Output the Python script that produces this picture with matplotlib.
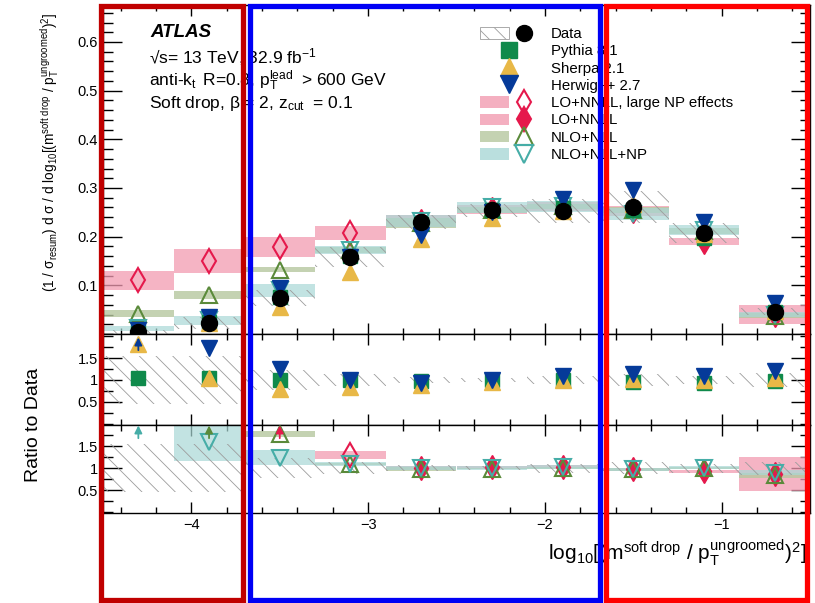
import numpy as np
import matplotlib
matplotlib.use("Agg")
import matplotlib.pyplot as plt
from matplotlib import ticker
from matplotlib.patches import Patch, Rectangle
from matplotlib.lines import Line2D
from matplotlib.legend_handler import HandlerTuple

plt.rcParams['font.family'] = ['Liberation Sans', 'DejaVu Sans']
plt.rcParams['mathtext.fontset'] = 'custom'
plt.rcParams['mathtext.rm'] = 'Liberation Sans'
plt.rcParams['mathtext.it'] = 'Liberation Sans:italic'
plt.rcParams['mathtext.bf'] = 'Liberation Sans:bold'
plt.rcParams['hatch.linewidth'] = 0.6

# binning: log10(rho^2), 10 bins of width 0.4
edges = [-4.5, -4.1, -3.7, -3.3, -2.9, -2.5, -2.1, -1.7, -1.3, -0.9, -0.5]
centers = [-4.3, -3.9, -3.5, -3.1, -2.7, -2.3, -1.9, -1.5, -1.1, -0.7]

# main panel
data = [0.005, 0.022, 0.074, 0.158, 0.230, 0.254, 0.253, 0.261, 0.208, 0.046]
data_err = [0.004, 0.012, 0.017, 0.020, 0.015, 0.013, 0.025, 0.033, 0.021, 0.007]
pythia = [0.006, 0.024, 0.075, 0.160, 0.225, 0.255, 0.258, 0.255, 0.198, 0.045]
sherpa = [0.009, 0.023, 0.056, 0.127, 0.195, 0.238, 0.253, 0.268, 0.205, 0.048]
herwig = [0.009, 0.035, 0.095, 0.158, 0.203, 0.250, 0.278, 0.296, 0.230, 0.064]

# LO+NNLL with large NP effects: first four bins, LO+NNLL: remaining six
lo_np = [0.110, 0.150, 0.179, 0.208]
lo_np_h = [0.020, 0.025, 0.021, 0.014]
lo = [0.232, 0.256, 0.262, 0.252, 0.190, 0.040]
lo_h = [0.012, 0.010, 0.010, 0.010, 0.007, 0.020]
nlo = [0.042, 0.080, 0.132, 0.172, 0.228, 0.255, 0.262, 0.255, 0.212, 0.038]
nlo_h = [0.007, 0.008, 0.005, 0.006, 0.010, 0.006, 0.006, 0.006, 0.006, 0.005]
nlonp = [0.012, 0.028, 0.090, 0.172, 0.232, 0.260, 0.262, 0.246, 0.214, 0.040]
nlonp_h = [0.005, 0.009, 0.013, 0.008, 0.012, 0.011, 0.012, 0.012, 0.010, 0.006]

# ratio to data, MC (values above the range are drawn as arrows)
data_rel = [0.55, 0.55, 0.22, 0.13, 0.07, 0.05, 0.10, 0.13, 0.10, 0.15]
pythia_r = [1.04, 1.04, 1.00, 1.00, 0.98, 1.00, 1.00, 0.96, 0.94, 0.97]
sherpa_r = [1.82, 1.04, 0.80, 0.84, 0.88, 0.96, 1.00, 1.02, 1.00, 1.05]
herwig_r = [2.30, 1.72, 1.24, 1.00, 0.92, 1.00, 1.08, 1.13, 1.10, 1.21]

# ratio to data, calculations
lo_np_r = [np.nan, np.nan, 2.40, 1.30]
lo_np_rh = [0, 0, 0, 0.09]
lo_r = [1.00, 1.02, 1.03, 0.97, 0.93, 0.87]
lo_rh = [0.04, 0.03, 0.03, 0.03, 0.03, 0.39]
nlo_r = [np.nan, 2.40, 1.78, 1.09, 0.98, 0.99, 1.00, 0.97, 1.00, 0.84]
nlo_rh = [0, 0, 0.07, 0.03, 0.04, 0.02, 0.02, 0.03, 0.03, 0.06]
nlonp_r = [2.40, 1.60, 1.24, 1.10, 1.00, 1.00, 1.03, 0.97, 1.01, 0.90]
nlonp_rh = [0, 0.43, 0.17, 0.05, 0.05, 0.04, 0.04, 0.04, 0.03, 0.05]

PINK_BAND, PINK = '#F29BB1', '#E5194C'
OLIVE_BAND, OLIVE = '#B6C79F', '#5A8A3A'
CYAN_BAND, CYAN = '#A9D8D6', '#46ADA7'
PYTHIA, SHERPA, HERWIG = '#0F8A4B', '#E8B847', '#053A99'
HATCH = '#9c9c9c'

W, H = 815, 603
fig = plt.figure(figsize=(W / 100, H / 100), dpi=100)


def px_axes(top, bottom):
    left, right = 103, 810
    return fig.add_axes([left / W, 1 - bottom / H, (right - left) / W, (bottom - top) / H])


ax = px_axes(5, 334)
ar1 = px_axes(334, 425)
ar2 = px_axes(425, 513)

bw = 0.4
c = np.array(centers)


def band(a, x, val, half, color, alpha=0.75):
    val, half = np.array(val, float), np.array(half, float)
    ok = ~np.isnan(val) & (half > 0)
    a.bar(np.array(x)[ok], 2 * half[ok], bottom=(val - half)[ok], width=bw,
          color=color, alpha=alpha, lw=0, zorder=2)


def hatch_band(a, x, lo_edge, hi_edge):
    a.bar(x, np.array(hi_edge) - np.array(lo_edge), bottom=lo_edge, width=bw,
          facecolor='none', edgecolor=HATCH, hatch='\\\\', lw=0, zorder=3)


def up_arrow(a, x, color, y0=1.68, y1=1.97):
    a.annotate('', xy=(x, y1), xytext=(x, y0),
               arrowprops=dict(arrowstyle='-|>', color=color, lw=1.3,
                               mutation_scale=11, shrinkA=0, shrinkB=0), zorder=6)


def points(a, x, y, top=None, arrow_color=None, **kw):
    x, y = np.array(x), np.array(y, float)
    if top is not None:
        over = y > top
        for xi in x[over]:
            up_arrow(a, xi, arrow_color)
        y = np.where(over, np.nan, y)
    a.plot(x, y, ls='none', **kw)


open_kw = dict(mfc='none', mew=1.5, zorder=5)
MS_SQ, MS_TRI, MS_DIA, MS_DOT = 10.5, 12, 12.5, 11.5

# ---- main panel ----
band(ax, c[:4], lo_np, lo_np_h, PINK_BAND)
band(ax, c[4:], lo, lo_h, PINK_BAND)
band(ax, c, nlo, nlo_h, OLIVE_BAND, alpha=0.8)
band(ax, c, nlonp, nlonp_h, CYAN_BAND, alpha=0.7)
hatch_band(ax, c, np.array(data) - data_err, np.array(data) + data_err)
ax.plot(c[:4], lo_np, 'd', color=PINK, ms=MS_DIA, **open_kw)
ax.plot(c[4:], lo, 'd', color=PINK, ms=MS_DIA, zorder=5)
ax.plot(c, nlo, '^', color=OLIVE, ms=MS_TRI, **open_kw)
ax.plot(c, nlonp, 'v', color=CYAN, ms=MS_TRI, **open_kw)
ax.plot(c, pythia, 's', color=PYTHIA, ms=MS_SQ, ls='none', zorder=6)
ax.plot(c, sherpa, '^', color=SHERPA, ms=MS_TRI, ls='none', zorder=6)
ax.plot(c, herwig, 'v', color=HERWIG, ms=MS_TRI, ls='none', zorder=6)
ax.plot(c, data, 'o', color='black', ms=MS_DOT, ls='none', zorder=7)
ax.set_ylim(0, 0.676)
ax.yaxis.set_major_locator(ticker.FixedLocator([0.1, 0.2, 0.3, 0.4, 0.5, 0.6]))
ax.yaxis.set_minor_locator(ticker.MultipleLocator(0.02))
ax.yaxis.set_major_formatter(ticker.FormatStrFormatter('%g'))

# ---- ratio 1: MC / data ----
hatch_band(ar1, c, 1 - np.array(data_rel), 1 + np.array(data_rel))
points(ar1, c, pythia_r, marker='s', color=PYTHIA, ms=MS_SQ, zorder=5)
points(ar1, c, sherpa_r, marker='^', color=SHERPA, ms=MS_TRI, zorder=5)
points(ar1, c, herwig_r, top=2.0, arrow_color=HERWIG, marker='v', color=HERWIG, ms=MS_TRI, zorder=6)
ar1.set_ylim(-0.03, 2.05)

# ---- ratio 2: calculations / data ----
hatch_band(ar2, c, 1 - np.array(data_rel), 1 + np.array(data_rel))
band(ar2, c[:4], lo_np_r, lo_np_rh, PINK_BAND)
band(ar2, c[4:], lo_r, lo_rh, PINK_BAND)
band(ar2, c, nlo_r, nlo_rh, OLIVE_BAND, alpha=0.8)
band(ar2, c, nlonp_r, nlonp_rh, CYAN_BAND, alpha=0.7)
points(ar2, c[:4], lo_np_r, top=1.95, arrow_color=PINK, marker='d', color=PINK, ms=MS_DIA, **open_kw)
points(ar2, c[4:], lo_r, marker='d', color=PINK, ms=MS_DIA, zorder=5)
points(ar2, c, nlo_r, top=1.95, arrow_color=OLIVE, marker='^', color=OLIVE, ms=MS_TRI, **open_kw)
points(ar2, c, nlonp_r, top=1.95, arrow_color=CYAN, marker='v', color=CYAN, ms=MS_TRI, **open_kw)
ar2.set_ylim(-0.02, 1.98)

for a in (ar1, ar2):
    a.yaxis.set_major_locator(ticker.FixedLocator([0.5, 1.0, 1.5]))
    a.yaxis.set_minor_locator(ticker.MultipleLocator(0.25))
    a.yaxis.set_major_formatter(ticker.FormatStrFormatter('%g'))

for a in (ax, ar1, ar2):
    a.set_xlim(edges[0], edges[-1])
    a.xaxis.set_major_locator(ticker.MultipleLocator(1))
    a.xaxis.set_minor_locator(ticker.MultipleLocator(0.2))
    a.tick_params(which='both', direction='in', top=True, right=True, labelsize=10.5, width=1)
    a.tick_params(axis='y', which='major', length=14)
    a.tick_params(axis='y', which='minor', length=7)
    a.tick_params(axis='x', which='major', length=8)
    a.tick_params(axis='x', which='minor', length=4)
    for s in a.spines.values():
        s.set_linewidth(1)
ax.tick_params(labelbottom=False)
ar1.tick_params(labelbottom=False)

# ---- texts ----
fig.text(150 / W, 1 - 37 / H, 'ATLAS', fontsize=13.5, fontweight='bold', fontstyle='italic', va='baseline')
fig.text(149 / W, 1 - 63 / H, '√s= 13 TeV, 32.9 fb$^{-1}$', fontsize=12.5, va='baseline')
fig.text(149 / W, 1 - 86 / H,
         r'anti-k$_{\mathrm{t}}\,$ R=0.8, p$_{\mathrm{T}}^{\mathrm{lead}}\;$ > 600 GeV',
         fontsize=12.5, va='baseline')
fig.text(149 / W, 1 - 108 / H, r'Soft drop, β = 2, z$_{\mathrm{cut}}\;$ = 0.1', fontsize=12.5, va='baseline')

fig.text(50 / W, 1 - 152 / H,
         r'(1 / σ$_{\mathrm{resum}}$) d σ / d log$_{10}$[(m$^{\mathrm{soft\ drop}}$ / '
         r'p$_{\mathrm{T}}^{\mathrm{ungroomed}}$)$^{2}$]',
         rotation=90, fontsize=9.8, ha='center', va='center')
fig.text(33 / W, 1 - 425 / H, 'Ratio to Data', rotation=90, fontsize=14, ha='center', va='center')
fig.text(548 / W, 1 - 560 / H,
         r'log$_{10}$[(m$^{\mathrm{soft\ drop}}$ / p$_{\mathrm{T}}^{\mathrm{ungroomed}}$)$^{2}$]',
         fontsize=15, ha='left', va='baseline')


# ---- legend ----
def th(band_color, marker, color, filled=False, ms=MS_TRI + 1):
    mk = Line2D([], [], ls='none', marker=marker, color=color, ms=ms,
                mfc=color if filled else 'none', mew=1.5)
    return (Patch(facecolor=band_color, alpha=0.8, lw=0), mk)


handles = [
    (Patch(facecolor='white', edgecolor=HATCH, hatch='\\\\', lw=0.6),
     Line2D([], [], ls='none', marker='o', color='black', ms=MS_DOT)),
    Line2D([], [], ls='none', marker='s', color=PYTHIA, ms=MS_SQ + 0.5),
    Line2D([], [], ls='none', marker='^', color=SHERPA, ms=MS_TRI + 1),
    Line2D([], [], ls='none', marker='v', color=HERWIG, ms=MS_TRI + 1),
    th(PINK_BAND, 'd', PINK, ms=MS_DIA),
    th(PINK_BAND, 'd', PINK, filled=True, ms=MS_DIA),
    th(OLIVE_BAND, '^', OLIVE),
    th(CYAN_BAND, 'v', CYAN),
]
labels = ['Data', 'Pythia 8.1', 'Sherpa 2.1', 'Herwig++ 2.7', 'LO+NNLL, large NP effects',
          'LO+NNLL', 'NLO+NLL', 'NLO+NLL+NP']
fig.legend(handles, labels, handler_map={tuple: HandlerTuple(ndivide=None)},
           loc='upper left', bbox_to_anchor=(480 / W, 1 - 27 / H), bbox_transform=fig.transFigure,
           frameon=False, fontsize=10.8, handlelength=3.9, handleheight=0.8,
           handletextpad=0.85, labelspacing=0.22, borderpad=0, borderaxespad=0)


# ---- coloured frames drawn over the figure ----
def frame(x0, y0, x1, y1, color):
    fig.patches.append(Rectangle((x0 / W, 1 - y1 / H), (x1 - x0) / W, (y1 - y0) / H,
                                 transform=fig.transFigure, fill=False, edgecolor=color,
                                 lw=3.8, zorder=20))


frame(101, 6, 243, 600, '#C00000')
frame(250, 6, 600, 600, '#0000F5')
frame(606, 6, 807, 600, '#FF0000')

fig.savefig('out.png', dpi=100)
